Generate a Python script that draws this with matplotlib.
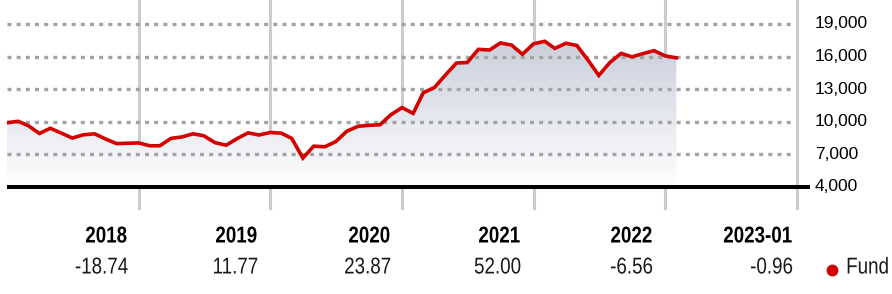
import numpy as np
import pandas as pd
import matplotlib
matplotlib.use('Agg')
import matplotlib.pyplot as plt
from matplotlib.lines import Line2D
from matplotlib.patheffects import AbstractPathEffect
from matplotlib.transforms import Affine2D

W, H = 892, 294

# monthly fund value (growth of 10,000), Dec 2017 .. Jan 2023
dates = pd.date_range('2017-12-31', periods=62, freq='ME')
values = [9910, 10040, 9640, 8920, 9400, 8950, 8500, 8800, 8890, 8420,
          7990, 8020, 8050, 7790, 7790, 8470, 8600, 8890, 8710, 8080,
          7840, 8440, 8980, 8780, 9010, 8950, 8470, 6660, 7750, 7700,
          8170, 9130, 9580, 9670, 9730, 10640, 11300, 10770, 12670, 13150,
          14280, 15400, 15450, 16660, 16600, 17250, 17050, 16210, 17170, 17400,
          16750, 17220, 17020, 15670, 14260, 15460, 16290, 15970, 16270, 16540,
          16060, 15880]

y_ticks = [4000, 7000, 10000, 13000, 16000, 19000]
year_lines = pd.to_datetime(['2019-01-01', '2020-01-01', '2021-01-01',
                             '2022-01-01', '2023-01-01', '2024-01-01'])
periods = ['2018', '2019', '2020', '2021', '2022', '2023-01']
returns = ['-18.74', '11.77', '23.87', '52.00', '-6.56', '-0.96']

RED = '#d40000'
plain = ['Liberation Sans', 'DejaVu Sans']


class Squeeze(AbstractPathEffect):
    # no condensed font installed, so narrow the glyphs around an anchor
    def __init__(self, x0, sx=0.82):
        super().__init__()
        self.x0 = x0
        self.sx = sx

    def draw_path(self, renderer, gc, tpath, affine, rgbFace=None):
        sq = Affine2D().translate(-self.x0, 0).scale(self.sx, 1).translate(self.x0, 0)
        renderer.draw_path(gc, tpath, affine + sq, rgbFace)


fig = plt.figure(figsize=(W / 100, H / 100), dpi=100)
ax = fig.add_axes([7 / W, (H - 210) / H, 803 / W, 210 / H])
xlim = (dates[0], pd.Timestamp('2024-02-06'))
ylim = (1880, 21200)
ax.axis('off')

# year separators
for d in year_lines:
    ax.axvline(d, color='#cccccc', lw=2.2, zorder=1)

# dotted grid
for v in y_ticks[1:]:
    ax.axhline(v, xmax=0.976, color='#a3a3a3', lw=2.4,
               linestyle=(0, (1.2, 1.55)), dash_capstyle='butt', zorder=2)

# gradient fill under the line
x = matplotlib.dates.date2num(dates)
poly = ax.fill_between(x, values, 4000, color='none', lw=0)
grad = np.linspace(0, 1, 256).reshape(-1, 1)
top = np.array([0.79, 0.81, 0.86])
bottom = np.array([1.0, 1.0, 1.0])
img = top * (1 - grad[..., None]) + bottom * grad[..., None]
im = ax.imshow(img, aspect='auto', extent=(x[0], x[-1], 4000, 17500),
               origin='upper', zorder=1.5)
im.set_clip_path(poly.get_paths()[0], transform=ax.transData)
ax.set_xlim(*xlim)
ax.set_ylim(*ylim)

ax.plot(dates, values, color=RED, lw=2.6, solid_joinstyle='miter', zorder=4)

# base line
ax.axhline(4000, color='black', lw=2.9, zorder=3)

# y labels on the right
for v in y_ticks:
    ax.annotate(f'{v:,}', xy=(1, v), xycoords=('axes fraction', 'data'),
                xytext=(5 / 1.389, 0), textcoords='offset points',
                ha='left', va='center', fontsize=12.5, family=plain,
                color='black')

# period table
right_edges = [127, 257, 390, 520, 652, 792]
for px, p, r in zip(right_edges, periods, returns):
    fig.text(px / W, 1 - 236 / H, p, ha='right', va='center',
             fontsize=16.5, fontweight='bold', family=plain,
             path_effects=[Squeeze(px)])
    fig.text((px + 1) / W, 1 - 267 / H, r, ha='right', va='center',
             fontsize=16.5, family=plain, color='#1a1a1a',
             path_effects=[Squeeze(px + 1)])

fig.add_artist(Line2D([832 / W], [1 - 270 / H], marker='o', markersize=7.5,
                      color=RED, transform=fig.transFigure))
fig.text(889 / W, 1 - 267 / H, 'Fund', ha='right', va='center',
         fontsize=16.5, family=plain, color='#1a1a1a',
         path_effects=[Squeeze(889)])

fig.savefig('out.png', dpi=100)
